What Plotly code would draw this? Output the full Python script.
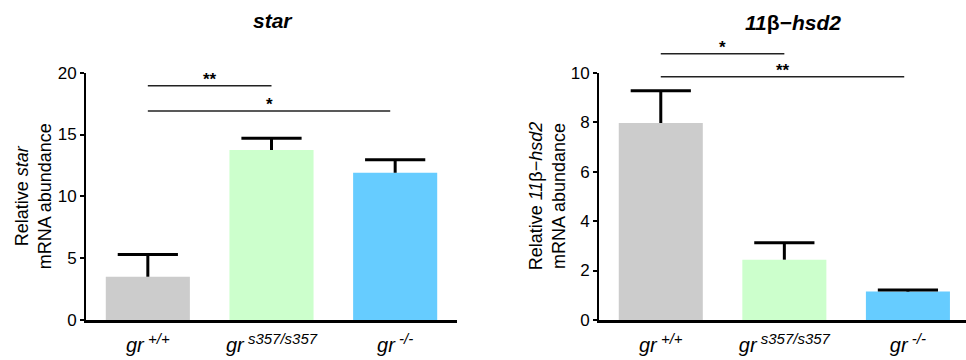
import plotly.graph_objects as go

# ---------------- data ----------------
categories = ["gr+/+", "grs357/s357", "gr-/-"]
tick_sup = ["+/+", "s357/s357", "-/-"]
bar_colors = ["#cccccc", "#ccffcc", "#66ccff"]

star_values = [3.5, 13.75, 11.9]
star_errors = [1.8, 0.95, 1.05]

hsd2_values = [7.97, 2.44, 1.15]
hsd2_errors = [1.3, 0.68, 0.06]

# significance brackets: (start index, end index, level, label)
star_sig = [(0, 1, 18.95, "**"), (0, 1.96, 16.9, "*")]
hsd2_sig = [(0, 1, 10.77, "*"), (0, 1.97, 9.84, "**")]

star_ticks = [0, 5, 10, 15, 20]
hsd2_ticks = [0, 2, 4, 6, 8, 10]

# ---------------- layout constants ----------------
W, H = 966, 360
FONT = "Liberation Sans, Arial, Helvetica, sans-serif"
ydom = [40 / H, (H - 72.7) / H]
x1dom = [86 / W, 457 / W]
x2dom = [599 / W, 1.0]
y1rng = [0, 20]
y2rng = [0, 10]

tick_labels = [
    "<i>gr</i><sup><span style='font-size:15px'> <i>" + s + "</i></span></sup>"
    for s in tick_sup
]


def to_paper(v, dom, rng):
    return dom[0] + (v - rng[0]) / (rng[1] - rng[0]) * (dom[1] - dom[0])


fig = go.Figure()

for vals, errs, xa, ya in [
    (star_values, star_errors, "x", "y"),
    (hsd2_values, hsd2_errors, "x2", "y2"),
]:
    fig.add_trace(
        go.Bar(
            x=categories,
            y=vals,
            marker=dict(color=bar_colors, line=dict(width=0)),
            width=0.68,
            xaxis=xa,
            yaxis=ya,
            showlegend=False,
            hoverinfo="skip",
        )
    )
    # one-sided (upper) error bars: stem + cap
    ex, ey = [], []
    for c, v, e in zip(categories, vals, errs):
        ex += [c, c, None]
        ey += [v, v + e, None]
    fig.add_trace(
        go.Scatter(
            x=ex, y=ey, mode="lines",
            line=dict(color="black", width=3),
            xaxis=xa, yaxis=ya, showlegend=False, hoverinfo="skip",
            cliponaxis=False,
        )
    )
    fig.add_trace(
        go.Scatter(
            x=categories, y=[v + e for v, e in zip(vals, errs)], mode="markers",
            marker=dict(symbol="line-ew", size=43,
                        line=dict(color="black", width=3)),
            xaxis=xa, yaxis=ya, showlegend=False, hoverinfo="skip",
            cliponaxis=False,
        )
    )

shapes = []
annotations = []
for sig, xref, rng in [(star_sig, "x", y1rng), (hsd2_sig, "x2", y2rng)]:
    for a, b, lvl, lab in sig:
        yp = to_paper(lvl, ydom, rng)
        shapes.append(
            dict(
                type="line",
                xref=xref,
                yref="paper",
                x0=a,
                x1=b,
                y0=yp,
                y1=yp,
                line=dict(color="#222222", width=1.5),
            )
        )
        annotations.append(
            dict(
                xref=xref,
                yref="paper",
                x=(a + b) / 2,
                y=yp,
                yanchor="bottom",
                text="<b>" + lab + "</b>",
                showarrow=False,
                font=dict(family=FONT, size=17, color="black"),
                yshift=-5,
            )
        )

# titles
annotations.append(
    dict(
        xref="paper", yref="paper", x=273 / W, y=1 - 20 / H,
        xanchor="center", yanchor="middle",
        text="<b><i>star</i></b>", showarrow=False,
        font=dict(family=FONT, size=21, color="black"),
    )
)
annotations.append(
    dict(
        xref="paper", yref="paper", x=793 / W, y=1 - 22 / H,
        xanchor="center", yanchor="middle",
        text="<b><i>11</i>β−<i>hsd2</i></b>", showarrow=False,
        font=dict(family=FONT, size=21, color="black"),
    )
)
# y-axis titles
for xpix, txt in [
    (33, "Relative <i>star</i><br>mRNA abundance"),
    (547, "Relative <i>11</i>β−<i>hsd2</i><br>mRNA abundance"),
]:
    annotations.append(
        dict(
            xref="paper", yref="paper", x=xpix / W, y=(ydom[0] + ydom[1]) / 2,
            xanchor="center", yanchor="middle", textangle=-90,
            text=txt, showarrow=False,
            font=dict(family=FONT, size=18, color="black"),
        )
    )

xcommon = dict(
    type="category",
    showline=True,
    linecolor="black",
    linewidth=3,
    ticks="",
    tickvals=categories,
    ticktext=tick_labels,
    tickfont=dict(family=FONT, size=20, color="black"),
    ticklabelstandoff=5,
    showgrid=False,
    zeroline=False,
    automargin=False,
    fixedrange=True,
)
ycommon = dict(
    showline=True,
    linecolor="black",
    linewidth=2,
    ticks="outside",
    ticklen=4,
    tickwidth=2,
    tickcolor="black",
    tickfont=dict(family=FONT, size=17, color="black"),
    showgrid=False,
    zeroline=False,
    automargin=False,
    fixedrange=True,
    domain=ydom,
)

fig.update_layout(
    width=W,
    height=H,
    margin=dict(l=0, r=0, t=0, b=0),
    paper_bgcolor="white",
    plot_bgcolor="white",
    font=dict(family=FONT, color="black"),
    xaxis=dict(xcommon, domain=x1dom, range=[-0.5, 2.5], anchor="y"),
    xaxis2=dict(xcommon, domain=x2dom, range=[-0.5, 2.47], anchor="y2"),
    yaxis=dict(ycommon, range=y1rng, tickvals=star_ticks, anchor="x"),
    yaxis2=dict(ycommon, range=y2rng, tickvals=hsd2_ticks, anchor="x2"),
    shapes=shapes,
    annotations=annotations,
)

fig.write_html(
    "out.html",
    config={"displayModeBar": False},
    post_script="document.body.style.margin='0';document.body.style.overflow='hidden';",
)
